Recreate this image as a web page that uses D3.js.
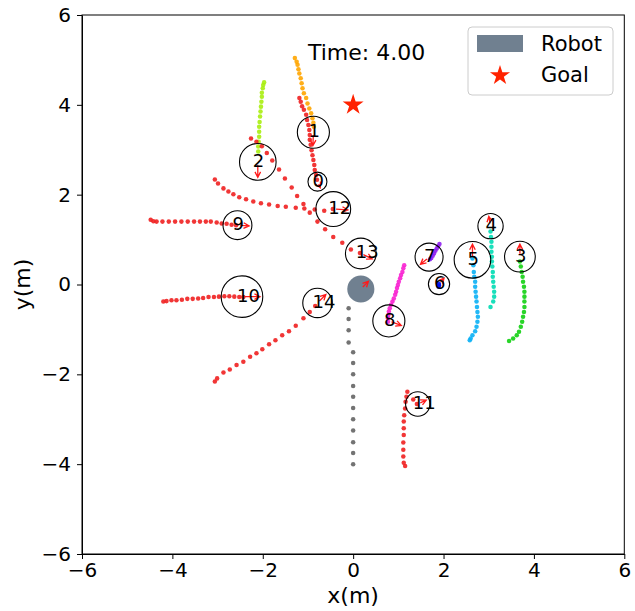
<!DOCTYPE html>
<html>
<head>
<meta charset="utf-8">
<script src="https://cdn.jsdelivr.net/npm/d3@7"></script>
<style>
  body { margin: 0; background: #fff; }
  text { font-family: "DejaVu Sans", sans-serif; }
</style>
</head>
<body>
<svg id="chart" width="635" height="611"></svg>
<script>
// ---- data (metres) ----
var axisTicks = [-6, -4, -2, 0, 2, 4, 6];
var timeLabel = "Time: 4.00";

var humanIds = [0, 1, 2, 3, 4, 5, 6, 7, 8, 9, 10, 11, 12, 13, 14];
var humanX = [-0.79, -0.88, -2.11, 3.69, 3.04, 2.64, 1.90, 1.68, 0.79, -2.56, -2.46, 1.43, -0.44, 0.17, -0.79];
var humanY = [2.29, 3.39, 2.73, 0.62, 1.30, 0.55, 0.01, 0.61, -0.81, 1.32, -0.27, -2.66, 1.68, 0.69, -0.41];
var humanR = [0.21, 0.355, 0.405, 0.34, 0.28, 0.405, 0.235, 0.31, 0.355, 0.32, 0.46, 0.27, 0.385, 0.34, 0.325];
var humanHeading = [-65, -92, -90, 90, 100, 90, 50, -140, -20, -3, 0, 25, -3, -25, 45]; // degrees
var humanColors = ["#f02020", "#ffa500", "#a8ee10", "#12d012", "#00dcb4", "#0ab0f5", "#0010ee", "#9020f0",
                   "#f820d0", "#f02020", "#f02020", "#f02020", "#f02020", "#f02020", "#f02020"];

var robotPos = [0.17, -0.10];
var robotR = 0.3;
var robotHeading = 45;
var goalPos = [0, 4];

var robotTrail = [[0,-4.0],[0,-3.75],[0,-3.51],[0,-3.25],[0,-3.0],[0,-2.75],[0,-2.5],[0,-2.26],[0,-2.0],[0,-1.75],[0,-1.51],[-0.1,-1.29],[-0.1,-1.02],[-0.1,-0.77],[-0.1,-0.53]];

var trail0 = [[-1.19,4.15],[-1.16,4.07],[-1.13,3.97],[-1.09,3.89],[-1.04,3.78],[-1.02,3.66],[-0.99,3.55],[-0.97,3.44],[-0.96,3.33],[-0.96,3.22],[-0.94,3.11],[-0.92,2.99],[-0.90,2.88],[-0.88,2.77],[-0.86,2.66],[-0.85,2.55],[-0.82,2.44],[-0.80,2.33]];
var trail1 = [[-1.29,5.04],[-1.25,4.96],[-1.23,4.89],[-1.21,4.79],[-1.19,4.70],[-1.16,4.59],[-1.14,4.48],[-1.12,4.37],[-1.09,4.26],[-1.04,4.15],[-1.01,4.03],[-0.97,3.92],[-0.93,3.81],[-0.90,3.70],[-0.88,3.60],[-0.87,3.51]];
var trail2 = [[-1.97,4.50],[-1.99,4.44],[-2.00,4.37],[-2.02,4.27],[-2.02,4.18],[-2.03,4.07],[-2.04,3.96],[-2.05,3.85],[-2.06,3.74],[-2.07,3.62],[-2.08,3.51],[-2.08,3.40],[-2.08,3.29],[-2.09,3.18],[-2.10,3.07],[-2.10,2.96]];
var trail3 = [[3.69,0.51],[3.71,0.40],[3.73,0.28],[3.75,0.17],[3.76,0.06],[3.78,-0.05],[3.79,-0.16],[3.79,-0.27],[3.79,-0.38],[3.79,-0.50],[3.78,-0.61],[3.76,-0.72],[3.74,-0.83],[3.71,-0.94],[3.67,-1.05],[3.62,-1.13],[3.54,-1.20],[3.45,-1.26]];
var trail4 = [[3.04,1.18],[3.05,1.06],[3.06,0.95],[3.06,0.84],[3.06,0.73],[3.07,0.62],[3.07,0.51],[3.08,0.40],[3.09,0.28],[3.09,0.17],[3.10,0.06],[3.11,-0.05],[3.12,-0.16],[3.12,-0.27],[3.10,-0.38],[3.04,-0.50]];
var trail5 = [[2.64,0.58],[2.66,0.43],[2.67,0.28],[2.68,0.17],[2.70,0.06],[2.70,-0.05],[2.71,-0.16],[2.72,-0.27],[2.73,-0.38],[2.74,-0.50],[2.75,-0.61],[2.76,-0.72],[2.75,-0.83],[2.73,-0.94],[2.70,-1.04],[2.64,-1.13],[2.60,-1.20],[2.58,-1.24]];
var trail6 = [[1.89,-0.05],[1.90,-0.02],[1.90,0.01]];
var trail7 = [[1.91,0.90],[1.88,0.85],[1.85,0.80],[1.82,0.75],[1.79,0.69],[1.76,0.64],[1.73,0.59],[1.70,0.56]];
var trail8 = [[1.13,0.43],[1.11,0.36],[1.09,0.28],[1.06,0.21],[1.04,0.14],[1.01,0.06],[0.99,-0.01],[0.97,-0.08],[0.95,-0.16],[0.93,-0.23],[0.90,-0.31],[0.87,-0.38],[0.84,-0.45],[0.81,-0.53],[0.79,-0.60],[0.78,-0.68],[0.77,-0.75],[0.77,-0.83]];
var trail9 = [[-4.48,1.44],[-4.42,1.41],[-4.35,1.40],[-4.22,1.40],[-4.08,1.40],[-3.94,1.40],[-3.80,1.40],[-3.66,1.40],[-3.52,1.40],[-3.39,1.40],[-3.26,1.40],[-3.15,1.40],[-3.02,1.38],[-2.91,1.36],[-2.80,1.35],[-2.69,1.33],[-2.59,1.32]];
var trail10 = [[-4.20,-0.38],[-4.13,-0.37],[-4.02,-0.35],[-3.91,-0.35],[-3.79,-0.34],[-3.67,-0.32],[-3.55,-0.32],[-3.43,-0.31],[-3.32,-0.30],[-3.20,-0.28],[-3.08,-0.28],[-2.97,-0.27],[-2.85,-0.26],[-2.74,-0.26],[-2.63,-0.27],[-2.52,-0.28],[-2.43,-0.28]];
var trail11 = [[1.15,-4.04],[1.12,-3.97],[1.11,-3.83],[1.11,-3.68],[1.11,-3.52],[1.12,-3.35],[1.12,-3.20],[1.12,-3.05],[1.13,-2.91],[1.15,-2.76],[1.16,-2.61],[1.18,-2.50],[1.20,-2.39],[1.33,-2.56],[1.41,-2.66]];
var trail12 = [[-3.06,2.34],[-2.99,2.25],[-2.87,2.14],[-2.76,2.07],[-2.65,2.01],[-2.52,1.94],[-2.37,1.90],[-2.21,1.85],[-2.04,1.81],[-1.86,1.78],[-1.67,1.75],[-1.49,1.73],[-1.27,1.71],[-1.08,1.69],[-0.85,1.67],[-0.64,1.64],[-0.45,1.68]];
var trail13 = [[-2.26,3.25],[-2.14,3.18],[-2.02,3.08],[-1.91,2.93],[-1.79,2.76],[-1.64,2.56],[-1.51,2.36],[-1.36,2.16],[-1.24,1.97],[-1.10,1.79],[-0.96,1.60],[-0.79,1.40],[-0.62,1.23],[-0.44,1.06],[-0.24,0.93],[-0.05,0.78],[0.15,0.70]];
var trail14 = [[-3.06,-2.16],[-3.01,-2.09],[-2.87,-1.96],[-2.73,-1.89],[-2.58,-1.79],[-2.43,-1.72],[-2.28,-1.61],[-2.14,-1.53],[-2.01,-1.44],[-1.86,-1.33],[-1.72,-1.24],[-1.57,-1.13],[-1.42,-1.04],[-1.27,-0.92],[-1.10,-0.75],[-0.96,-0.61],[-0.84,-0.48]];

var humanTrails = [trail0, trail1, trail2, trail3, trail4, trail5, trail6, trail7,
                   trail8, trail9, trail10, trail11, trail12, trail13, trail14];

// ---- layout ----
var width = 635, height = 611;
var margin = { top: 15, right: 635 - 624.3, bottom: 611 - 554, left: 82 };
var svg = d3.select("#chart");

var xScale = d3.scaleLinear().domain([-6, 6]).range([margin.left, width - margin.right]);
var yScale = d3.scaleLinear().domain([-6, 6]).range([height - margin.bottom, margin.top]);
var pxPerM = xScale(1) - xScale(0);

// clip to plot area
svg.append("clipPath").attr("id", "plot-clip")
  .append("rect")
  .attr("x", margin.left).attr("y", margin.top)
  .attr("width", width - margin.left - margin.right)
  .attr("height", height - margin.top - margin.bottom);

var plot = svg.append("g").attr("clip-path", "url(#plot-clip)");

// trails
var dotR = 0.05 * pxPerM;
plot.append("g").selectAll("circle")
  .data(robotTrail).enter().append("circle")
  .attr("cx", function(d) { return xScale(d[0]); })
  .attr("cy", function(d) { return yScale(d[1]); })
  .attr("r", dotR)
  .attr("fill", "#737373");

humanTrails.forEach(function(trail, i) {
  plot.append("g").selectAll("circle")
    .data(trail).enter().append("circle")
    .attr("cx", function(d) { return xScale(d[0]); })
    .attr("cy", function(d) { return yScale(d[1]); })
    .attr("r", dotR)
    .attr("fill", humanColors[i])
    .attr("fill-opacity", 0.9);
});

// robot
plot.append("circle")
  .attr("cx", xScale(robotPos[0]))
  .attr("cy", yScale(robotPos[1]))
  .attr("r", robotR * pxPerM)
  .attr("fill", "#708090");

// goal
plot.append("path")
  .attr("d", d3.symbol().type(d3.symbolStar).size(136)())
  .attr("transform", "translate(" + xScale(goalPos[0]) + "," + yScale(goalPos[1]) + ")")
  .attr("fill", "#ff2200");

// humans
plot.append("g").selectAll("circle")
  .data(humanIds).enter().append("circle")
  .attr("cx", function(i) { return xScale(humanX[i]); })
  .attr("cy", function(i) { return yScale(humanY[i]); })
  .attr("r", function(i) { return humanR[i] * pxPerM; })
  .attr("fill", "none")
  .attr("stroke", "black")
  .attr("stroke-width", 1.1);

// heading arrows ("->" style, shrunk at both ends)
function arrowPath(cx, cy, r, deg) {
  var a = deg * Math.PI / 180;
  var x0 = xScale(cx), y0 = yScale(cy);
  var len = r * pxPerM;
  var ux = Math.cos(a), uy = -Math.sin(a);
  var sx = x0 + ux * 2.8, sy = y0 + uy * 2.8;
  var tx = x0 + ux * (len - 2.8), ty = y0 + uy * (len - 2.8);
  var hl = 5.5, hw = 2.8;
  var bx = tx - ux * hl, by = ty - uy * hl;
  return "M" + sx + "," + sy + "L" + tx + "," + ty +
    "M" + (bx - uy * hw) + "," + (by + ux * hw) + "L" + tx + "," + ty +
    "L" + (bx + uy * hw) + "," + (by - ux * hw);
}

var arrows = plot.append("g")
  .attr("fill", "none")
  .attr("stroke", "#ff1a1a")
  .attr("stroke-width", 1.3);

arrows.selectAll("path")
  .data(humanIds).enter().append("path")
  .attr("d", function(i) { return arrowPath(humanX[i], humanY[i], humanR[i], humanHeading[i]); });

arrows.append("path")
  .attr("d", arrowPath(robotPos[0], robotPos[1], robotR, robotHeading));

// human numbers
plot.append("g").selectAll("text")
  .data(humanIds).enter().append("text")
  .attr("x", function(i) { return xScale(humanX[i] - 0.11); })
  .attr("y", function(i) { return yScale(humanY[i] - 0.11); })
  .attr("font-size", "18px")
  .attr("fill", "black")
  .text(function(i) { return String(i); });

// time
svg.append("text")
  .attr("x", xScale(-1))
  .attr("y", yScale(5))
  .attr("font-size", "22px")
  .text(timeLabel);

// axes
var axisx = d3.axisBottom(xScale).tickValues(axisTicks).tickSize(5).tickSizeOuter(0).tickPadding(4);
var axisy = d3.axisLeft(yScale).tickValues(axisTicks).tickSize(5).tickSizeOuter(0).tickPadding(6);

svg.append("g")
  .attr("transform", "translate(0," + (height - margin.bottom) + ")")
  .call(axisx)
  .attr("font-size", 20)
  .attr("font-family", "DejaVu Sans, sans-serif");

svg.append("g")
  .attr("transform", "translate(" + margin.left + ",0)")
  .call(axisy)
  .attr("font-size", 20)
  .attr("font-family", "DejaVu Sans, sans-serif");

svg.selectAll(".tick line").attr("stroke-width", 1);

// frame
svg.append("rect")
  .attr("x", margin.left).attr("y", margin.top)
  .attr("width", width - margin.left - margin.right)
  .attr("height", height - margin.top - margin.bottom)
  .attr("fill", "none")
  .attr("stroke", "black")
  .attr("stroke-width", 1);

svg.append("text")
  .attr("x", (margin.left + width - margin.right) / 2)
  .attr("y", 603)
  .attr("text-anchor", "middle")
  .attr("font-size", "22px")
  .text("x(m)");

svg.append("text")
  .attr("transform", "translate(30," + (margin.top + height - margin.bottom) / 2 + ") rotate(-90)")
  .attr("text-anchor", "middle")
  .attr("font-size", "22px")
  .text("y(m)");

// legend
var legend = svg.append("g");
legend.append("rect")
  .attr("x", 468).attr("y", 27)
  .attr("width", 145).attr("height", 68)
  .attr("rx", 4)
  .attr("fill", "white").attr("fill-opacity", 0.8)
  .attr("stroke", "#cccccc");
legend.append("rect")
  .attr("x", 477).attr("y", 35)
  .attr("width", 46).attr("height", 17)
  .attr("fill", "#708090");
legend.append("path")
  .attr("d", d3.symbol().type(d3.symbolStar).size(125)())
  .attr("transform", "translate(500,75.5)")
  .attr("fill", "#ff2200");
legend.append("text").attr("x", 541).attr("y", 51).attr("font-size", "21px").text("Robot");
legend.append("text").attr("x", 541).attr("y", 82).attr("font-size", "21px").text("Goal");
</script>
</body>
</html>
